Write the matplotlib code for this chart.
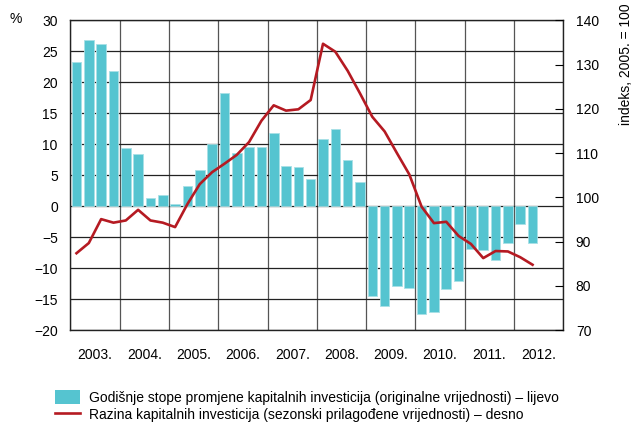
import matplotlib
matplotlib.use("Agg")
import matplotlib.pyplot as plt
import numpy as np
from matplotlib.patches import Patch
from matplotlib.lines import Line2D

plt.rcParams['font.family'] = ['Liberation Sans Narrow', 'Liberation Sans', 'DejaVu Sans']

# quarterly data, 2003 Q1 - 2012 Q2
years = ["2003.", "2004.", "2005.", "2006.", "2007.", "2008.", "2009.", "2010.", "2011.", "2012."]
growth = [23.2, 26.9, 26.2, 21.8,
          9.4, 8.5, 1.4, 1.8,
          0.4, 3.3, 5.9, 10.0,
          18.2, 8.6, 9.6, 9.6,
          11.9, 6.5, 6.3, 4.4,
          10.8, 12.5, 7.5, 3.9,
          -14.5, -16.1, -12.9, -13.1,
          -17.4, -17.0, -13.3, -12.1,
          -6.9, -7.0, -8.6, -5.9,
          -2.8, -5.9]
level = [87.4, 89.7, 95.1, 94.3,
         94.8, 97.2, 94.8, 94.3,
         93.3, 98.5, 103.0, 105.7,
         107.6, 109.6, 112.5, 117.3,
         120.8, 119.6, 119.9, 122.0,
         134.7, 132.9, 128.6, 123.5,
         118.2, 114.9, 110.0, 105.2,
         97.9, 94.2, 94.5, 91.3,
         89.5, 86.3, 87.9, 87.8,
         86.5, 84.8]

bar_color = "#55C4D0"
line_color = "#B51A22"
fs = 10

fig = plt.figure(figsize=(6.37, 4.30), dpi=100)
ax = fig.add_axes([0.1104, 0.2319, 0.774, 0.7209])
x = np.arange(len(growth))

ax.bar(x, growth, width=0.78, color=bar_color, edgecolor="#A8E0E6", linewidth=0.6, zorder=2)
ax.set_xlim(-0.5, len(years) * 4 - 0.5)
ax.set_ylim(-20, 30)
ax.set_yticks(np.arange(-20, 31, 5))
ax.tick_params(axis="y", length=0, labelsize=fs, pad=9)

# year boundaries as gridlines, labels in the middle of each year
bounds = np.arange(len(years) + 1) * 4 - 0.5
ax.set_xticks(bounds)
ax.set_xticklabels([])
ax.set_xticks(np.arange(len(years)) * 4 + 1.5, minor=True)
ax.set_xticklabels(years, minor=True)
ax.tick_params(axis="x", which="both", length=0, labelsize=fs, pad=13)

ax.grid(True, axis="y", color="#222222", linewidth=0.9, zorder=0)
ax.grid(True, axis="x", which="major", color="#555555", linewidth=0.9, zorder=0)
ax.set_axisbelow(True)
for s in ax.spines.values():
    s.set_color("#222222")
    s.set_linewidth(1.0)

ax2 = ax.twinx()
ax2.plot(x, level, color=line_color, linewidth=1.9, zorder=3)
ax2.set_ylim(70, 140)
ax2.set_yticks(np.arange(70, 141, 10))
ax2.tick_params(axis="y", direction="in", length=6, width=0.8, labelsize=fs, pad=9)
ax2.set_ylabel("indeks, 2005. = 100", fontsize=fs)
ax2.yaxis.set_label_coords(1.112, 0.86)
for s in ax2.spines.values():
    s.set_visible(False)

fig.text(0.015, 0.955, "%", fontsize=fs, va="center")

handles = [Patch(facecolor=bar_color, edgecolor="none"),
           Line2D([0], [0], color=line_color, linewidth=1.9)]
labels = ["Godišnje stope promjene kapitalnih investicija (originalne vrijednosti) – lijevo",
          "Razina kapitalnih investicija (sezonski prilagođene vrijednosti) – desno"]
fig.legend(handles, labels, loc="upper left", bbox_to_anchor=(0.078, 0.105),
           frameon=False, fontsize=fs, handlelength=1.8, handleheight=1.1,
           handletextpad=0.6, labelspacing=0.2, borderaxespad=0)

fig.savefig("out.png", dpi=100)
